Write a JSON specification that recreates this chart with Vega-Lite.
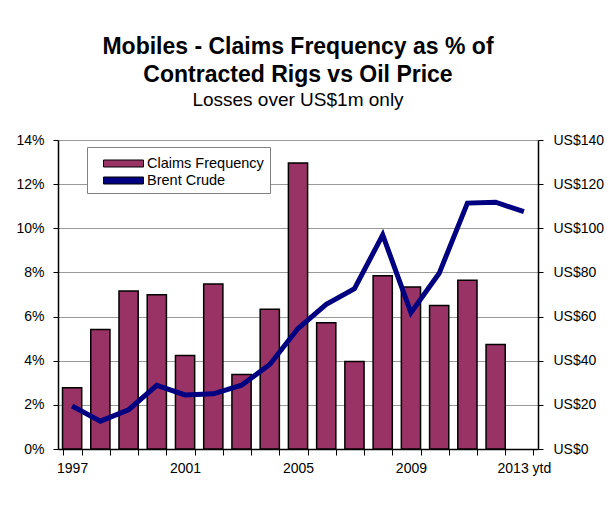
{
  "$schema": "https://vega.github.io/schema/vega-lite/v6.json",
  "width": 480,
  "height": 309,
  "padding": {"left": 15, "top": 36, "right": 10, "bottom": 10},
  "background": "white",
  "title": {
    "text": ["Mobiles - Claims Frequency as % of", "Contracted Rigs vs Oil Price"],
    "subtitle": "Losses over US$1m only",
    "font": "Liberation Sans",
    "fontSize": 23,
    "fontWeight": "bold",
    "lineHeight": 28,
    "color": "black",
    "subtitleFont": "Liberation Sans",
    "subtitleFontSize": 19,
    "subtitleColor": "black",
    "subtitlePadding": 4,
    "offset": 23,
    "anchor": "middle"
  },
  "data": {
    "values": [
      {"year": "1997", "freq": 0.0278, "brent": 19.5},
      {"year": "1998", "freq": 0.0541, "brent": 12.6},
      {"year": "1999", "freq": 0.0716, "brent": 17.8},
      {"year": "2000", "freq": 0.0699, "brent": 28.8},
      {"year": "2001", "freq": 0.0424, "brent": 24.5},
      {"year": "2002", "freq": 0.0748, "brent": 25.0},
      {"year": "2003", "freq": 0.0337, "brent": 28.9},
      {"year": "2004", "freq": 0.0633, "brent": 38.3},
      {"year": "2005", "freq": 0.1296, "brent": 54.6},
      {"year": "2006", "freq": 0.0572, "brent": 65.5},
      {"year": "2007", "freq": 0.0396, "brent": 72.6},
      {"year": "2008", "freq": 0.0785, "brent": 97.0},
      {"year": "2009", "freq": 0.0734, "brent": 61.8},
      {"year": "2010", "freq": 0.0650, "brent": 79.6},
      {"year": "2011", "freq": 0.0764, "brent": 111.4},
      {"year": "2012", "freq": 0.0474, "brent": 111.8},
      {"year": "2013 ytd", "freq": null, "brent": 107.5}
    ]
  },
  "encoding": {
    "x": {
      "field": "year",
      "type": "ordinal",
      "sort": null,
      "scale": {"paddingInner": 0.32, "paddingOuter": 0.16},
      "axis": {
        "labelAngle": 0,
        "labelPadding": 6,
        "tickBand": "extent",
        "ticks": true,
        "tickSize": 6,
        "tickWidth": 1,
        "labelOverlap": false,
        "grid": false,
        "labelExpr": "indexof(['1997','2001','2005','2009','2013 ytd'], datum.value) >= 0 ? datum.value : ''"
      }
    }
  },
  "layer": [
    {
      "mark": {"type": "bar", "stroke": "black", "strokeWidth": 1.5},
      "encoding": {
        "y": {
          "field": "freq",
          "type": "quantitative",
          "scale": {"domain": [0, 0.14]},
          "axis": {
            "values": [0, 0.02, 0.04, 0.06, 0.08, 0.1, 0.12, 0.14],
            "format": ".0%",
            "grid": true,
            "gridColor": "#999999",
            "labelPadding": 9
          }
        },
        "color": {
          "datum": "Claims Frequency",
          "scale": {"domain": ["Claims Frequency", "Brent Crude"], "range": ["#993366", "#000080"]},
          "legend": {
            "orient": "none",
            "legendX": 29,
            "legendY": 7,
            "title": null,
            "direction": "vertical",
            "strokeColor": "#808080",
            "fillColor": "white",
            "padding": 6,
            "labelFont": "Liberation Sans",
            "labelFontSize": 14.5,
            "labelColor": "black",
            "symbolType": "M-2,-0.35H2V0.35H-2Z",
            "symbolSize": 400,
            "symbolOffset": 20,
            "symbolStrokeColor": "black",
            "symbolStrokeWidth": 1,
            "rowPadding": 0,
            "labelOffset": 13
          }
        }
      }
    },
    {
      "mark": {"type": "line", "strokeWidth": 5, "color": "#000080"},
      "encoding": {
        "y": {
          "field": "brent",
          "type": "quantitative",
          "scale": {"domain": [0, 140]},
          "axis": {
            "orient": "right",
            "values": [0, 20, 40, 60, 80, 100, 120, 140],
            "labelExpr": "'US$' + datum.value",
            "grid": false,
            "labelPadding": 10
          }
        }
      }
    }
  ],
  "resolve": {"scale": {"y": "independent"}},
  "config": {
    "view": {"stroke": null},
    "axis": {
      "title": null,
      "labelFont": "Liberation Sans",
      "labelFontSize": 14,
      "labelColor": "black",
      "domainColor": "black",
      "domainWidth": 1.5,
      "tickColor": "black",
      "tickSize": 5
    }
  }
}
